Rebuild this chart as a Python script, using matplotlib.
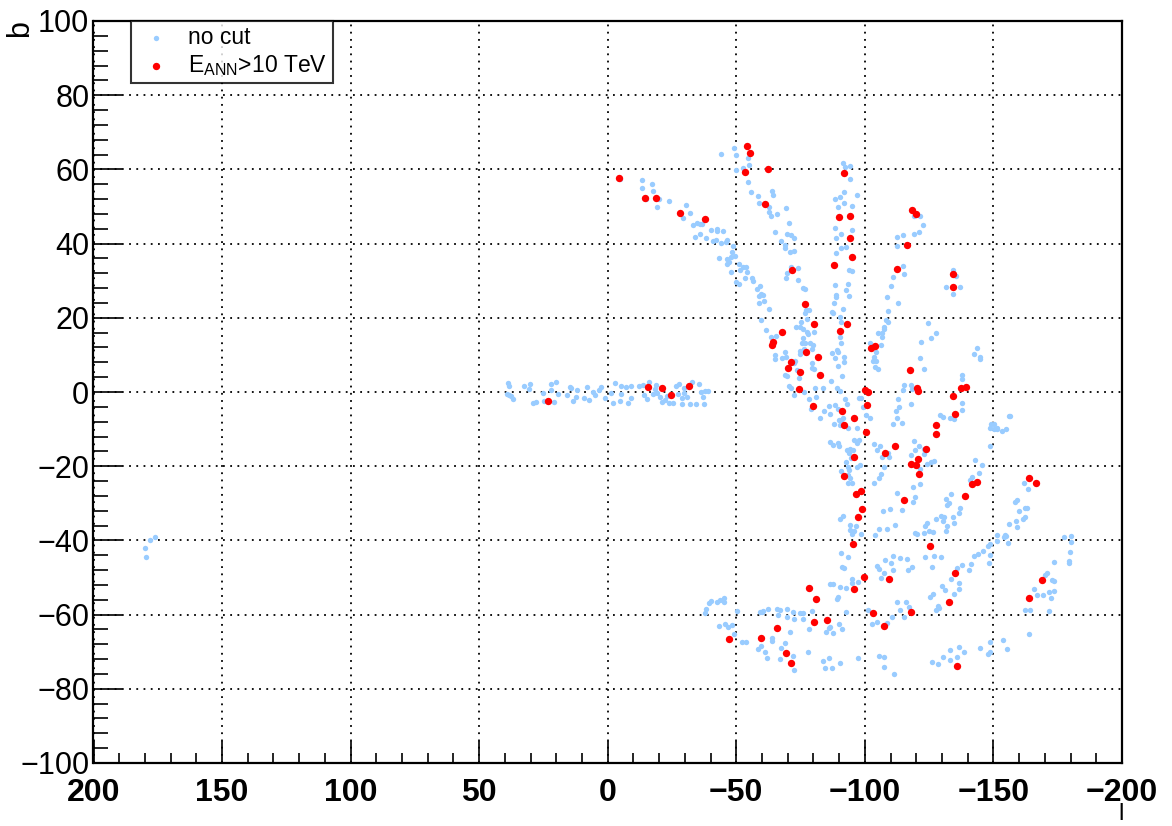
import numpy as np
import matplotlib
matplotlib.use("Agg")
import matplotlib.pyplot as plt
from matplotlib import font_manager as fm
from matplotlib.ticker import MultipleLocator

# puntos "no cut" (l, b), agrupados por zona
plano = [(38.9,2.3),(38.5,1.6),(39.3,-0.6),(38.4,-0.8),(37.6,-1.0),(36.7,-2.0),(32.4,1.7),(30.8,0.8),(30.2,2.2),
         (28.9,-2.9),(27.9,-2.8),(25.1,-0.2),(24.8,-2.3),(21.9,0.5),(21.9,2.2),(20.3,2.8),(20.9,-2.8),(19.4,-0.5),
         (16.0,-0.7),(14.7,1.4),(14.2,1.0),(13.4,-2.5),(12.5,-1.3),(11.8,0.5),(9.2,-1.6),(7.9,1.4),(7.2,-2.2),
         (5.6,-0.1),(5.0,-0.8),(3.3,0.5),(2.5,1.4),(1.1,-1.7),(-1.4,-0.4),(-2.8,2.5),(-2.2,-2.9),(-4.8,-2.3),
         (-5.3,-0.6),(-5.2,1.6),(-7.0,1.4),(-8.9,1.6),(-7.8,-2.9),(-8.9,-1.7),(-12.0,1.7),(-13.9,1.9),(-15.9,2.6),
         (-14.1,-0.8),(-15.1,-1.9),(-17.5,-0.6),(-18.8,1.9),(-19.0,-0.3),(-20.3,-1.4),(-21.2,-2.8),(-22.4,-2.1),
         (-23.2,-1.0),(-24.0,-3.0),(-25.3,-3.0),(-26.4,1.7),(-27.7,2.1),(-27.5,-0.5),(-29.0,-1.6),(-28.8,-3.1),
         (-29.7,-0.2),(-30.7,-1.3),(-32.0,-3.1),(-32.9,2.8),(-34.3,-3.1),(-35.4,2.1),(-36.2,-0.1),(-37.0,-1.3),
         (-37.6,-3.1),(-37.9,0.4),(-38.9,0.2),(-29.5,1.0),(-18.4,0.9)]

arco = [(-13.5,57.1),(-13.3,55.1),(-17.1,56.0),(-17.7,54.3),(-14.8,52.0),(-19.8,52.0),(-19.2,50.0),(-23.8,51.6),
        (-30.6,50.3),(-31.8,48.3),(-29.2,46.9),(-33.2,44.9),(-34.7,45.5),(-36.0,45.2),(-36.8,45.4),(-35.9,42.7),
        (-34.1,41.9),(-38.2,41.4),(-40.1,43.6),(-42.3,43.9),(-42.6,43.4),(-44.7,43.5),(-41.1,40.7),(-42.1,41.1),
        (-46.3,41.1),(-45.8,40.3),(-44.1,40.1),(-48.9,39.3),(-48.2,37.7),(-47.8,36.4),(-46.3,35.9),(-43.4,36.1),
        (-49.5,36.6),(-47.2,35.0),(-46.4,34.6),(-47.8,32.3),(-51.2,34.5),(-51.3,32.9),(-52.5,33.7),(-53.7,33.6),
        (-54.1,32.4),(-53.5,30.8),(-56.0,30.6),(-56.4,29.9),(-49.9,29.7),(-51.2,29.0),(-59.1,28.5),(-57.9,27.7),
        (-59.6,26.5),(-60.3,26.2),(-59.0,26.0),(-60.8,24.6),(-58.7,23.9),(-62.7,22.5),(-59.6,19.3),(-61.5,16.6),
        (-65.5,15.2),(-63.3,14.9),(-65.2,9.9),(-65.2,8.9),(-4.8,57.3)]

arriba = [(-44.2,64.2),(-49.1,65.8),(-49.7,63.9),(-49.7,59.9),(-52.5,60.3),(-54.9,61.3),(-54.6,63.2),(-54.7,56.5),
          (-55.9,54.0),(-58.5,52.9),(-58.7,51.0),(-63.9,54.2),(-64.3,53.0),(-62.9,50.0),(-62.6,48.6),(-63.4,47.5),
          (-65.7,48.1),(-69.2,49.6),(-70.5,45.5),(-65.2,43.0),(-69.6,42.7),(-71.4,42.2),(-72.6,41.4),(-67.5,40.7),
          (-68.8,39.6),(-69.0,38.7),(-70.7,37.8),(-72.4,37.9),(-71.2,33.6),(-74.1,33.3),(-69.7,32.0),(-69.3,30.8),
          (-73.9,30.3),(-75.9,28.0),(-76.8,27.8)]

nucleo = [(-77.2,22.1),(-78.1,22.0),(-76.9,21.2),(-77.3,19.8),(-75.0,18.8),(-73.3,17.5),(-74.6,17.5),(-76.0,17.1),
          (-77.3,16.1),(-78.0,15.6),(-80.1,16.2),(-75.9,14.6),(-76.7,13.1),(-75.6,13.1),(-78.8,13.1),(-79.8,12.8),
          (-76.4,11.5),(-74.9,11.0),(-79.4,11.5),(-74.6,10.2),(-68.8,10.9),(-69.3,9.5),(-67.7,9.1),(-72.9,8.4),
          (-72.3,7.7),(-79.5,7.7),(-80.1,6.3),(-79.4,6.5),(-73.6,5.9),(-68.8,4.6),(-69.7,4.3),(-74.5,3.7),
          (-70.3,1.7),(-71.2,1.0),(-72.3,-0.8),(-76.2,0.1),(-80.7,1.0),(-83.7,1.0),(-78.2,-1.8),(-81.1,-1.3),
          (-79.0,-4.5),(-82.6,-6.9),(-84.2,-5.0),(-86.5,-5.9),(-85.9,-3.8),(-87.8,-8.6),(-89.9,-7.6),(-90.3,-8.8),
          (-91.3,-6.9),(-86.7,3.0)]

franja = [(-91.6,61.8),(-92.4,60.6),(-94.4,61.0),(-94.1,57.5),(-91.9,54.0),(-96.9,53.2),(-88.4,51.9),(-90.4,52.5),
          (-89.4,49.9),(-91.7,51.0),(-94.8,50.2),(-88.4,44.1),(-90.8,42.5),(-88.9,41.4),(-94.8,43.8),(-90.9,38.9),
          (-92.8,39.0),(-88.9,37.5),(-93.8,33.0),(-94.8,32.7),(-93.3,29.1),(-92.6,27.5),(-93.8,25.8),(-88.5,28.8),
          (-88.6,26.2),(-88.6,25.5),(-88.1,23.9),(-87.1,21.6),(-87.6,21.2),(-91.5,22.4),(-90.4,20.1),(-90.8,19.0),
          (-90.2,14.9),(-90.7,13.1),(-89.1,11.3),(-89.5,10.7),(-87.3,10.6),(-91.7,9.5),(-88.5,9.2),(-91.7,8.2),
          (-89.5,7.0),(-91.2,4.3),(-89.1,1.1),(-90.4,0.2),(-92.4,-1.8),(-93.0,-3.1),(-88.4,-3.5),(-89.4,-4.7),
          (-90.6,-7.6),(-96.9,-9.8),(-98.6,-1.5),(-97.7,-1.5),(-99.4,-4.0),(-102.1,-6.9),(-100.5,-6.3),(-93.5,-9.6)]

franja_baja = [(-86.5,-13.6),(-87.6,-14.4),(-89.4,-13.8),(-90.0,-14.6),(-93.0,-15.6),(-94.3,-15.3),(-95.3,-15.6),
               (-93.7,-16.4),(-96.9,-13.7),(-97.7,-13.0),(-95.6,-13.0),(-94.6,-17.8),(-92.5,-18.8),(-93.3,-20.1),
               (-96.9,-20.1),(-98.2,-19.7),(-93.9,-21.0),(-93.3,-22.4),(-94.3,-23.3),(-95.0,-24.4),(-90.9,-21.4),
               (-93.5,-24.4),(-91.5,-33.3),(-90.4,-34.2),(-94.1,-35.9),(-96.7,-36.1),(-94.3,-37.2),(-95.9,-37.6),
               (-95.0,-38.4),(-98.5,-38.4),(-90.7,-43.5),(-93.3,-44.5),(-91.7,-47.5),(-91.1,-47.1),(-95.1,-50.5),
               (-94.8,-51.6),(-97.2,-51.2),(-92.5,-52.9),(-86.5,-51.7),(-87.6,-51.7),(-90.2,-52.6),(-89.7,-55.2),
               (-89.1,-55.9),(-92.6,-59.3),(-86.5,-63.3),(-86.0,-63.5),(-89.9,-62.4),(-91.0,-63.8),(-87.6,-65.0),
               (-85.0,-64.7),(-77.8,-70.1),(-83.6,-72.5),(-85.9,-71.6),(-84.3,-74.5),(-87.1,-74.3),(-90.4,-73.0),
               (-97.2,-71.7)]

fondo = [(-37.8,-59.7),(-38.4,-58.6),(-39.5,-57.0),(-40.3,-56.2),(-42.6,-56.7),(-43.6,-56.1),(-45.4,-55.6),
         (-45.4,-56.5),(-43.2,-63.1),(-45.5,-62.5),(-46.8,-63.3),(-48.4,-62.9),(-49.1,-65.2),(-50.2,-58.9),
         (-52.1,-67.3),(-53.9,-67.3),(-58.5,-69.4),(-59.6,-68.5),(-61.1,-70.0),(-61.9,-71.8),(-59.4,-59.2),
         (-60.3,-58.9),(-62.5,-58.5),(-63.9,-67.0),(-60.0,-59.2),(-65.8,-58.6),(-67.1,-58.8),(-69.7,-58.6),
         (-72.0,-59.2),(-74.9,-59.7),(-75.8,-59.7),(-79.4,-59.0),(-75.8,-61.1),(-72.3,-61.3),(-69.9,-60.6),
         (-66.4,-60.0),(-63.8,-66.2),(-67.3,-68.9),(-69.0,-67.7),(-67.1,-72.1),(-72.0,-71.2),(-72.5,-74.8),
         (-71.0,-64.6),(-78.2,-64.0)]

pista_a = [(-119.0,47.4),(-121.3,47.4),(-122.6,45.0),(-121.0,43.0),(-119.0,42.5),(-114.7,42.2),(-112.3,41.7),
           (-112.5,39.3),(-114.7,33.9),(-115.2,31.7),(-110.8,31.1),(-110.3,28.6),(-108.5,25.7),(-113.0,24.0),
           (-109.0,21.9),(-108.3,19.5),(-109.0,18.8),(-107.3,17.6),(-107.6,16.9),(-106.8,15.9),(-106.6,14.7),
           (-105.0,15.8),(-106.3,12.6),(-104.4,10.8),(-103.4,9.5),(-103.0,8.4),(-104.4,8.3),(-104.0,6.8),
           (-105.1,6.2),(-101.8,13.3),(-102.3,12.0)]

pista_b = [(-124.5,18.6),(-127.7,15.9),(-125.6,14.5),(-121.8,13.4),(-121.3,9.1),(-123.0,6.2),(-115.1,1.9),
           (-114.8,0.5),(-117.9,1.9),(-118.4,0.7),(-112.7,-1.8),(-113.4,-4.0),(-112.0,-5.0),(-112.5,-6.9),
           (-110.9,-8.5),(-114.4,-8.3),(-117.9,-3.1),(-129.3,-6.2),(-130.2,-6.8),(-133.0,-7.0),(-134.5,-7.2),
           (-137.6,-4.9),(-137.9,-2.9),(-137.8,4.6),(-137.8,3.6),(-142.6,10.3),(-143.6,11.8),(-144.9,9.5),
           (-144.8,9.0),(-131.4,28.4),(-134.3,32.9),(-135.4,31.3),(-134.3,26.3),(-137.1,28.2),(-156.2,-6.5),
           (-150.1,-8.5),(-148.8,-9.8),(-151.4,-9.8)]

medio = [(-103.7,-14.0),(-106.0,-14.6),(-104.7,-15.6),(-106.6,-17.6),(-109.2,-17.6),(-107.3,-20.1),(-106.4,-22.2),
         (-109.1,-16.5),(-105.3,-23.1),(-103.4,-24.6),(-112.5,-27.3),(-114.6,-31.8),(-109.9,-31.6),(-107.0,-32.1),
         (-108.6,-37.0),(-105.3,-37.0),(-103.8,-38.6),(-111.8,-35.9),(-110.9,-44.2),(-110.1,-46.0),(-107.7,-45.3),
         (-104.7,-46.9),(-105.4,-47.8),(-107.3,-48.9),(-106.4,-50.0),(-109.2,-50.8),(-110.8,-48.0),(-113.8,-44.8),
         (-116.4,-45.1),(-118.3,-47.1),(-116.6,-48.0),(-112.5,-56.5),(-116.0,-56.5),(-117.0,-57.9),(-113.5,-58.8),
         (-115.3,-60.6),(-110.5,-60.6),(-108.6,-62.2),(-104.7,-61.9),(-102.8,-62.5),(-101.1,-58.8),(-105.3,-71.1),
         (-107.3,-71.3),(-107.3,-74.0),(-111.3,-75.9)]

pista_c = [(-122.9,-16.8),(-124.2,-19.4),(-125.7,-18.8),(-126.7,-18.5),(-118.1,-17.0),(-119.4,-15.5),(-122.9,-15.3),
           (-121.2,-14.5),(-119.0,-13.2),(-121.6,-20.8),(-121.6,-24.9),(-118.7,-25.5),(-119.5,-28.2),(-118.7,-29.6),
           (-124.2,-35.4),(-123.4,-36.1),(-124.8,-37.6),(-126.5,-37.8),(-122.9,-38.1),(-120.3,-38.3),(-119.4,-38.1),
           (-129.7,-33.3),(-130.6,-33.8),(-127.8,-34.1),(-130.4,-34.9),(-131.9,-36.1),(-131.4,-37.4),(-134.3,-33.6),
           (-134.8,-35.4),(-137.1,-31.4),(-136.7,-32.7),(-132.7,-29.8),(-131.9,-30.5),(-123.5,-44.4),(-127.0,-44.1),
           (-129.6,-44.6),(-126.1,-47.1),(-129.9,-52.3),(-131.0,-53.5),(-128.6,-57.7),(-127.8,-58.8),(-126.6,-54.5),
           (-125.2,-55.3),(-129.0,-58.2),(-133.5,-50.4),(-135.8,-47.4),(-136.7,-51.6),(-136.5,-53.2),(-134.8,-54.4),
           (-137.8,-46.5),(-140.4,-48.0),(-141.3,-46.4),(-142.3,-44.1),(-143.9,-43.7),(-145.9,-42.8),(-148.8,-41.0),
           (-148.0,-41.5),(-148.5,-43.9),(-148.1,-46.2),(-151.4,-40.1),(-154.0,-39.0),(-155.7,-40.8),(-154.6,-38.5),
           (-131.4,-28.9),(-133.6,-27.6),(-141.0,-23.7),(-141.8,-23.0),(-142.7,-18.3),(-144.3,-21.9),(-145.4,-19.8)]

derecha = [(-149.1,-8.5),(-150.1,-10.1),(-151.4,-9.9),(-153.2,-10.4),(-154.8,-10.1),(-156.3,-6.6),(-148.8,-14.6),
           (-151.4,-38.5),(-154.9,-38.7),(-159.2,-29.1),(-158.2,-29.6),(-158.7,-34.9),(-159.2,-36.3),(-155.9,-35.6),
           (-160.0,-32.0),(-162.4,-31.2),(-163.1,-31.2),(-162.4,-33.6),(-161.5,-34.2),(-163.3,-26.2),(-161.8,-24.6),
           (-177.6,-39.2),(-180.0,-38.7),(-180.0,-40.3),(-179.7,-43.0),(-179.5,-46.0),(-179.5,-45.5),(-173.4,-45.9),
           (-170.2,-49.4),(-170.8,-48.7),(-172.8,-50.7),(-173.4,-50.9),(-165.9,-53.1),(-167.0,-54.7),(-169.3,-54.7),
           (-171.6,-53.8),(-173.4,-53.7),(-172.5,-55.4),(-171.6,-59.0),(-162.4,-58.8),(-164.1,-58.8),(-163.8,-65.1),
           (-153.7,-66.8),(-155.3,-69.3),(-148.8,-67.3),(-148.5,-70.0),(-147.7,-70.7),(-144.9,-69.1),(-138.7,-70.0),
           (-136.7,-68.8),(-133.0,-69.5),(-130.2,-71.3),(-128.4,-73.3),(-126.1,-72.7),(-135.8,-71.5),(-133.0,-72.2)]

izquierda = [(176.2,-39.0),(178.2,-39.9),(179.9,-42.0),(179.5,-44.4)]

# eventos con E_ANN > 10 TeV
corte = [(-4.4,57.6),(-14.4,52.4),(-18.6,52.3),(-28.1,48.3),(-38.0,46.5),(-54.3,66.4),(-55.5,64.5),(-53.2,59.3),
         (-62.4,60.0),(-61.2,50.7),(-64.4,13.5),(-64.0,12.8),(-15.7,1.4),(-21.2,1.0),(-24.6,-0.7),(-31.5,1.6),
         (23.2,-2.4),(-91.7,59.1),(-90.0,47.1),(-94.2,47.4),(-94.3,41.5),(-94.8,36.3),(-88.1,34.3),(-71.8,33.0),
         (-76.7,23.7),(-80.1,18.4),(-67.7,16.1),(-77.1,10.8),(-71.4,8.2),(-70.2,6.6),(-74.7,5.4),(-81.9,9.3),
         (-82.6,4.5),(-74.2,0.7),(-79.8,-3.9),(-91.1,-5.2),(-91.9,-9.0),(-95.7,-6.9),(-92.9,18.4),(-90.2,16.4),
         (-100.2,0.5),(-101.2,0.1),(-100.8,-3.4),(-118.3,49.1),(-119.7,48.1),(-116.4,39.7),(-112.5,33.2),
         (-104.0,12.5),(-102.5,11.9),(-117.7,5.9),(-120.3,1.0),(-120.5,0.2),(-134.3,31.7),(-134.4,28.4),
         (-137.5,1.0),(-139.5,1.3),(-134.1,-1.1),(-135.2,-5.9),(-127.6,-8.8),(-127.6,-11.2),(-123.9,-15.4),
         (-111.6,-14.5),(-108.0,-16.4),(-100.3,-10.9),(-95.9,-17.4),(-91.9,-22.6),(-96.7,-27.4),(-98.6,-26.6),
         (-99.0,-31.5),(-97.3,-33.7),(-95.4,-41.1),(-99.8,-49.8),(-95.6,-53.2),(-78.1,-52.8),(-81.1,-55.7),
         (-85.2,-61.4),(-80.3,-62.1),(-66.0,-63.7),(-59.6,-66.2),(-69.3,-70.4),(-71.2,-73.0),(-103.1,-59.5),
         (-107.3,-63.0),(-117.9,-59.3),(-109.2,-50.5),(-115.1,-29.1),(-118.1,-19.3),(-119.7,-19.6),(-120.6,-18.0),
         (-120.9,-22.2),(-125.3,-41.5),(-135.2,-48.9),(-132.6,-56.5),(-135.7,-73.9),(-139.1,-28.0),(-141.8,-24.9),
         (-143.7,-24.2),(-164.0,-23.1),(-166.4,-24.4),(-169.0,-50.7),(-164.0,-55.4),(-47.1,-66.5)]

todos = np.array(plano + arco + arriba + nucleo + franja + franja_baja + fondo + pista_a + pista_b
                 + medio + pista_c + derecha + izquierda)
cortados = np.array(corte)

# fuentes (estilo ROOT)
plt.rcParams['font.family'] = ['Liberation Sans', 'DejaVu Sans']
plt.rcParams['mathtext.fontset'] = 'custom'
plt.rcParams['mathtext.rm'] = 'Liberation Sans'
plt.rcParams['mathtext.it'] = 'Liberation Sans:italic'
nombres = {f.name for f in fm.fontManager.ttflist}
if 'Liberation Sans Narrow' in nombres:
    fuente_x = dict(family='Liberation Sans Narrow', weight='bold', size=27)
else:
    fuente_x = dict(family='Liberation Sans', weight='bold', size=23)

fig = plt.figure(figsize=(11.72, 8.26), dpi=100)
ax = fig.add_axes([93.5/1172, 1 - 763/826, (1122 - 93.5)/1172, (763 - 21)/826])

ax.scatter(todos[:, 0], todos[:, 1], s=15, color='#99ccff', linewidths=0, zorder=3, label='no cut')
ax.scatter(cortados[:, 0], cortados[:, 1], s=28, color='#ff0000', linewidths=0, zorder=4,
           label=r'E$_{\mathrm{ANN}}$>10 TeV')

ax.set_xlim(200, -200)
ax.set_ylim(-100, 100)
ax.xaxis.set_major_locator(MultipleLocator(50))
ax.xaxis.set_minor_locator(MultipleLocator(10))
ax.yaxis.set_major_locator(MultipleLocator(20))
ax.yaxis.set_minor_locator(MultipleLocator(4))

ax.grid(True, which='major', color='black', linestyle=(0, (1, 3)), linewidth=1.3, zorder=1)
ax.set_axisbelow(True)

for s in ax.spines.values():
    s.set_linewidth(1.6)

ax.tick_params(axis='y', which='major', direction='in', length=21, width=1.2, labelsize=22, pad=3)
ax.tick_params(axis='y', which='minor', direction='in', length=10.5, width=1.2)
ax.tick_params(axis='x', which='major', direction='in', length=16, width=1.2, pad=11)
ax.tick_params(axis='x', which='minor', direction='in', length=7.5, width=1.2)
for t in ax.get_xticklabels():
    t.set_fontproperties(fm.FontProperties(**fuente_x))

# titulos de ejes al estilo ROOT
fig.text(20/1172, 1 - 20/826, 'b', rotation=90, ha='center', va='top', fontsize=22)
fig.text(1124/1172, 0.001, 'l', ha='right', va='bottom', fontsize=17)

leg = ax.legend(loc='upper left', bbox_to_anchor=(37.5/1028.5, 0.93, 202/1028.5, 0.07), mode='expand',
                borderaxespad=0, fontsize=16.5, frameon=True, fancybox=False, edgecolor='black',
                handletextpad=0.5, labelspacing=0.2, borderpad=0.2, handlelength=1.8, scatterpoints=1)
leg.get_frame().set_linewidth(1.5)
leg.set_zorder(10)

plt.savefig('out.png', dpi=100)
